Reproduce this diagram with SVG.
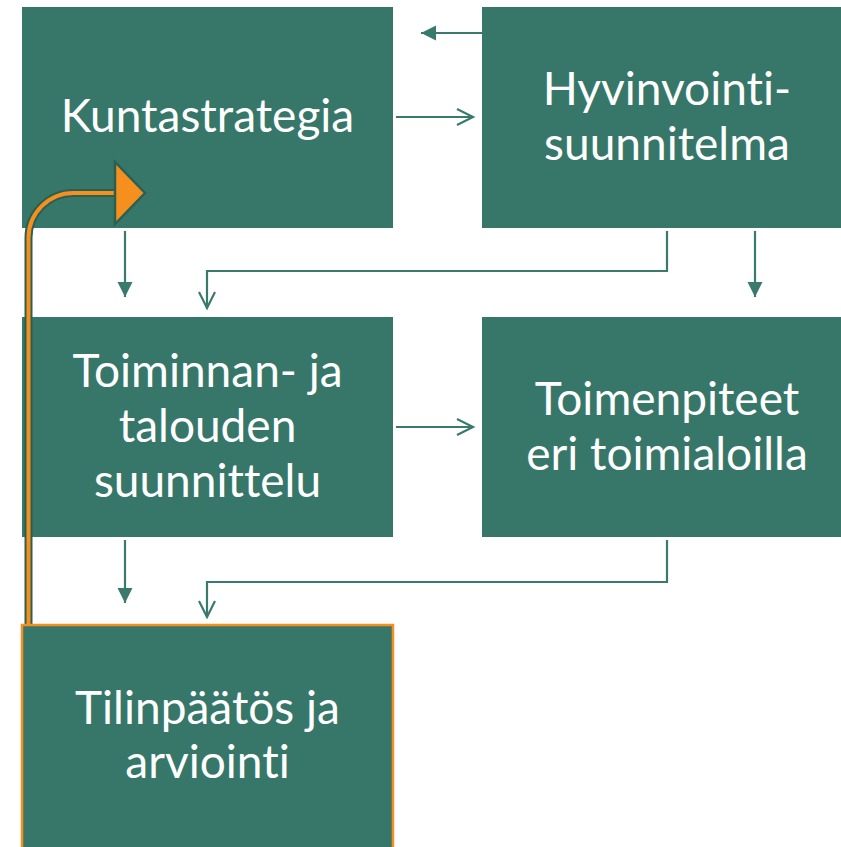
<svg xmlns="http://www.w3.org/2000/svg" width="841" height="847" viewBox="0 0 841 847">
<style>
.box{fill:#37776a;}
.lbl{fill:#ffffff;font-family:Lato,"Open Sans","Liberation Sans",sans-serif;font-size:46px;text-anchor:middle;font-variant-ligatures:none;}
.con{fill:none;stroke:#3a7a6c;stroke-width:2.2;}
</style>
<defs>
<marker id="tri" markerUnits="userSpaceOnUse" markerWidth="16" markerHeight="16" refX="15" refY="7.5" orient="auto">
<path d="M0,0 L15,7.5 L0,15 z" fill="#3a7a6c"/>
</marker>
<marker id="chev" markerUnits="userSpaceOnUse" markerWidth="20" markerHeight="20" refX="17" refY="9" orient="auto">
<path d="M1,1 L17,9 L1,17" fill="none" stroke="#3a7a6c" stroke-width="2.2"/>
</marker>
</defs>
<rect width="841" height="847" fill="#ffffff"/>
<g id="kuntastrategia">
<rect class="box" x="22" y="7" width="371" height="221"/>
<text class="lbl" x="207.5" y="132">Kuntastrategia</text>
</g>
<g id="hyvinvointi">
<rect class="box" x="482" y="7" width="371" height="221"/>
<text class="lbl" x="667" y="105">Hyvinvointi-</text>
<text class="lbl" x="667" y="160">suunnitelma</text>
</g>
<g id="toiminnan">
<rect class="box" x="22" y="317" width="371" height="220"/>
<text class="lbl" x="207.5" y="387">Toiminnan- ja</text>
<text class="lbl" x="207.5" y="442">talouden</text>
<text class="lbl" x="207.5" y="497">suunnittelu</text>
</g>
<g id="toimenpiteet">
<rect class="box" x="482" y="317" width="371" height="220"/>
<text class="lbl" x="667" y="415">Toimenpiteet</text>
<text class="lbl" x="667" y="470">eri toimialoilla</text>
</g>
<g id="connectors">
<path class="con" d="M482,33 L421,33" marker-end="url(#tri)"/>
<path class="con" d="M396,117 L473,117" marker-end="url(#chev)"/>
<path class="con" d="M125,231 L125,297" marker-end="url(#tri)"/>
<path class="con" d="M667,231 L667,271 L207,271 L207,308" marker-end="url(#chev)"/>
<path class="con" d="M755,231 L755,297" marker-end="url(#tri)"/>
<path class="con" d="M396,427 L473,427" marker-end="url(#chev)"/>
<path class="con" d="M125,540 L125,603" marker-end="url(#tri)"/>
<path class="con" d="M667,540 L667,582 L207,582 L207,617" marker-end="url(#chev)"/>
</g>
<g id="feedback">
<path d="M28.5,626 L28.5,238 A45,45 0 0 1 73.5,193 L117,193" fill="none" stroke="#2b5f52" stroke-width="8"/>
<path d="M28.5,626 L28.5,238 A45,45 0 0 1 73.5,193 L117,193" fill="none" stroke="#f5901e" stroke-width="4"/>
<polygon points="115,162 145,193 115,224" fill="#f5901e" stroke="#2b5f52" stroke-width="2.5" stroke-linejoin="miter"/>
</g>
<g id="tilinpaatos">
<rect class="box" x="22" y="625" width="371" height="240" stroke="#f5901e" stroke-width="2.5"/>
<text class="lbl" x="207.5" y="724">Tilinpäätös ja</text>
<text class="lbl" x="207.5" y="778">arviointi</text>
</g>
</svg>
